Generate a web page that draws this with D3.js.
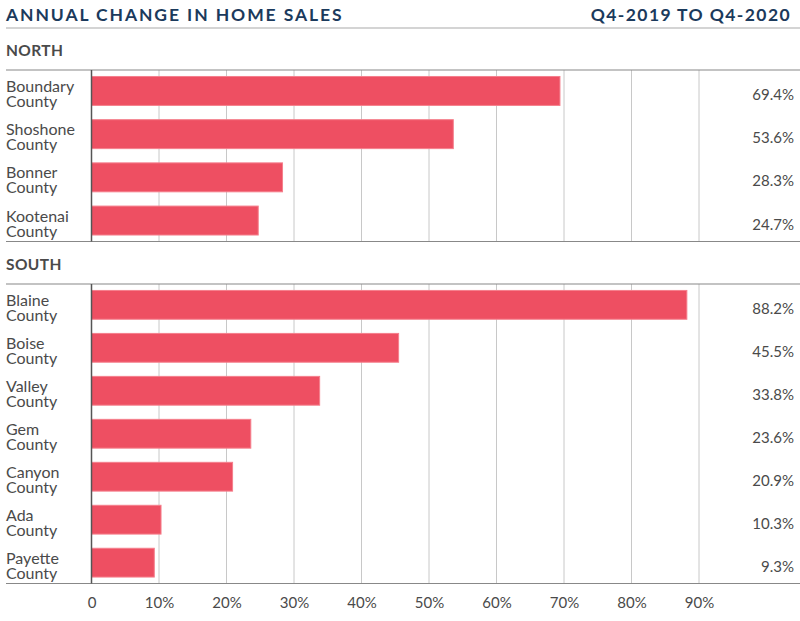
<!DOCTYPE html>
<html>
<head>
<meta charset="utf-8">
<script src="https://cdn.jsdelivr.net/npm/d3@7"></script>
<style>
  body { margin: 0; background: #fff; }
  text { font-family: Lato, "Open Sans", sans-serif; }
</style>
</head>
<body>
<div id="chart"></div>
<script>
// data
const northCounties = ["Boundary County", "Shoshone County", "Bonner County", "Kootenai County"];
const northValues = [69.4, 53.6, 28.3, 24.7];
const southCounties = ["Blaine County", "Boise County", "Valley County", "Gem County",
                       "Canyon County", "Ada County", "Payette County"];
const southValues = [88.2, 45.5, 33.8, 23.6, 20.9, 10.3, 9.3];
const tickValues = [0, 10, 20, 30, 40, 50, 60, 70, 80, 90];

const width = 800, height = 621;
const TEXT = "#4a4a4a", NAVY = "#1b3a5c", BAR = "#ee4f62";

let svg = d3.select("#chart").append("svg")
    .attr("width", width)
    .attr("height", height);

let x = d3.scaleLinear().domain([0, 90]).range([91.5, 699]);

// header
svg.append("text")
    .attr("x", 6).attr("y", 21)
    .attr("fill", NAVY)
    .attr("font-size", 17.5).attr("font-weight", 700)
    .attr("letter-spacing", 1.9)
    .text("ANNUAL CHANGE IN HOME SALES");
svg.append("text")
    .attr("x", 791).attr("y", 21)
    .attr("text-anchor", "end")
    .attr("fill", NAVY)
    .attr("font-size", 17.5).attr("font-weight", 700)
    .attr("letter-spacing", 1.4)
    .text("Q4-2019 TO Q4-2020");
svg.append("line")
    .attr("x1", 6).attr("x2", 800).attr("y1", 28).attr("y2", 28)
    .attr("stroke", "#aaa").attr("stroke-width", 1.2);

function drawSection(title, titleY, top, bottom, cats, vals) {
    svg.append("text")
        .attr("x", 6).attr("y", titleY)
        .attr("fill", TEXT)
        .attr("font-size", 15.5).attr("font-weight", 700)
        .attr("letter-spacing", 0.4)
        .text(title);

    let y = d3.scaleBand()
        .domain(cats)
        .range([top, bottom])
        .paddingInner(0.33).paddingOuter(0.15);

    let g = svg.append("g");

    // vertical gridlines
    g.selectAll(".grid")
        .data(tickValues.slice(1))
        .enter().append("line")
        .attr("x1", d => x(d)).attr("x2", d => x(d))
        .attr("y1", top).attr("y2", bottom)
        .attr("stroke", "#c8c8c8").attr("stroke-width", 1);

    g.selectAll(".bar")
        .data(vals)
        .enter().append("rect")
        .attr("x", x(0))
        .attr("y", (d, i) => y(cats[i]))
        .attr("width", d => x(d) - x(0))
        .attr("height", y.bandwidth())
        .attr("fill", BAR)
        .attr("stroke", "#f57f8c").attr("stroke-width", 1);

    // category labels on two lines
    let lab = g.selectAll(".cat")
        .data(cats)
        .enter().append("text")
        .attr("fill", TEXT)
        .attr("font-size", 16);
    lab.append("tspan")
        .attr("x", 6)
        .attr("y", d => y(d) + y.bandwidth() / 2 + 1)
        .text(d => d.split(" ")[0]);
    lab.append("tspan")
        .attr("x", 6)
        .attr("y", d => y(d) + y.bandwidth() / 2 + 16)
        .text(d => d.split(" ")[1]);

    g.selectAll(".val")
        .data(vals)
        .enter().append("text")
        .attr("x", 794)
        .attr("y", (d, i) => y(cats[i]) + y.bandwidth() / 2 + 9)
        .attr("text-anchor", "end")
        .attr("fill", TEXT)
        .attr("font-size", 15)
        .text(d => d.toFixed(1) + "%");

    // section rules and zero line
    [top, bottom].forEach(yy => {
        g.append("line")
            .attr("x1", 6).attr("x2", 800).attr("y1", yy).attr("y2", yy)
            .attr("stroke", "#888").attr("stroke-width", 1.2);
    });
    g.append("line")
        .attr("x1", x(0)).attr("x2", x(0))
        .attr("y1", top).attr("y2", bottom)
        .attr("stroke", "#555").attr("stroke-width", 1.5);
}

drawSection("NORTH", 56, 70, 241.5, northCounties, northValues);
drawSection("SOUTH", 270, 284, 583.5, southCounties, southValues);

// bottom axis
let xAxis = d3.axisBottom(x)
    .tickValues(tickValues)
    .tickSize(0)
    .tickPadding(14)
    .tickFormat(d => d === 0 ? "0" : d + "%");

let ax = svg.append("g")
    .attr("transform", "translate(0,583.5)")
    .call(xAxis);
ax.select(".domain").remove();
ax.selectAll("text")
    .attr("fill", TEXT)
    .attr("font-size", 15)
    .attr("font-family", "Lato, 'Open Sans', sans-serif");
</script>
</body>
</html>
